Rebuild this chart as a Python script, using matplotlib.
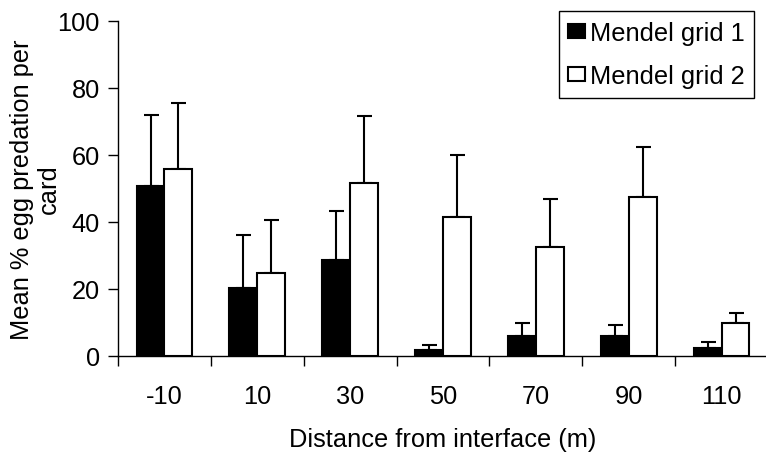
import matplotlib
matplotlib.use("Agg")
import matplotlib.pyplot as plt
import numpy as np

plt.rcParams['font.family'] = ['Liberation Sans', 'DejaVu Sans']

# Distance categories and mean egg predation (%) with upper standard errors
distances = ["-10", "10", "30", "50", "70", "90", "110"]
grid1_mean = [50.6, 20.2, 28.5, 1.8, 6.0, 6.0, 2.3]
grid1_err = [21.4, 16.0, 14.8, 1.6, 3.9, 3.3, 1.8]
grid2_mean = [55.9, 24.9, 51.7, 41.5, 32.6, 47.5, 9.9]
grid2_err = [19.6, 15.6, 19.8, 18.5, 14.2, 14.9, 3.0]
series_names = ["Mendel grid 1", "Mendel grid 2"]

W, H = 766, 456
fig = plt.figure(figsize=(W / 100, H / 100), dpi=100)
ax_top, ax_bot = 21.7, 357
ax = fig.add_axes([118 / W, 1 - ax_bot / H, (768 - 118) / W, (ax_bot - ax_top) / H])

x = np.arange(len(distances))
bw = 0.3
fs = 18.3

ax.bar(x - bw / 2, grid1_mean, bw, color="black", edgecolor="black",
       linewidth=1.5, label=series_names[0], zorder=2)
ax.bar(x + bw / 2, grid2_mean, bw, color="white", edgecolor="black",
       linewidth=1.5, label=series_names[1], zorder=2)

for xs, m, e in ((x - bw / 2, grid1_mean, grid1_err), (x + bw / 2, grid2_mean, grid2_err)):
    zeros = np.zeros(len(m))
    ax.errorbar(xs, m, yerr=[zeros, e], fmt="none", ecolor="black",
                elinewidth=1.5, capsize=5.4, capthick=1.5, zorder=1)

ax.set_xlim(-0.5, 6.5)
ax.set_ylim(0, 100)
ax.set_yticks(np.arange(0, 101, 20))
ax.set_xticks(x)
ax.set_xticklabels(distances)
ax.set_xticks(np.arange(-0.5, 7, 1), minor=True)
ax.tick_params(axis="x", which="major", length=0, pad=20, labelsize=fs)
ax.tick_params(axis="x", which="minor", length=7, width=1, direction="out")
ax.tick_params(axis="y", length=7, width=1, direction="out", pad=6, labelsize=fs)

for s in ("top", "right"):
    ax.spines[s].set_visible(False)
for s in ("left", "bottom"):
    ax.spines[s].set_linewidth(1)

ax.set_xlabel("Distance from interface (m)", fontsize=fs, labelpad=14)
fig.text(35.5 / W, 1 - (ax_top + ax_bot) / 2 / H, "Mean % egg predation per\ncard",
         rotation=90, ha="center", va="center", multialignment="center",
         fontsize=fs, linespacing=1.15)

leg = ax.legend(loc="upper right", bbox_to_anchor=(754 / W, 1 - 12.3 / H),
                bbox_transform=fig.transFigure, fontsize=fs, frameon=True,
                fancybox=False, edgecolor="black", framealpha=1,
                handlelength=0.63, handleheight=0.51, handletextpad=0.2,
                labelspacing=0.75, borderpad=0.38, borderaxespad=0)
leg.get_frame().set_linewidth(1)

fig.savefig("out.png", dpi=100)
